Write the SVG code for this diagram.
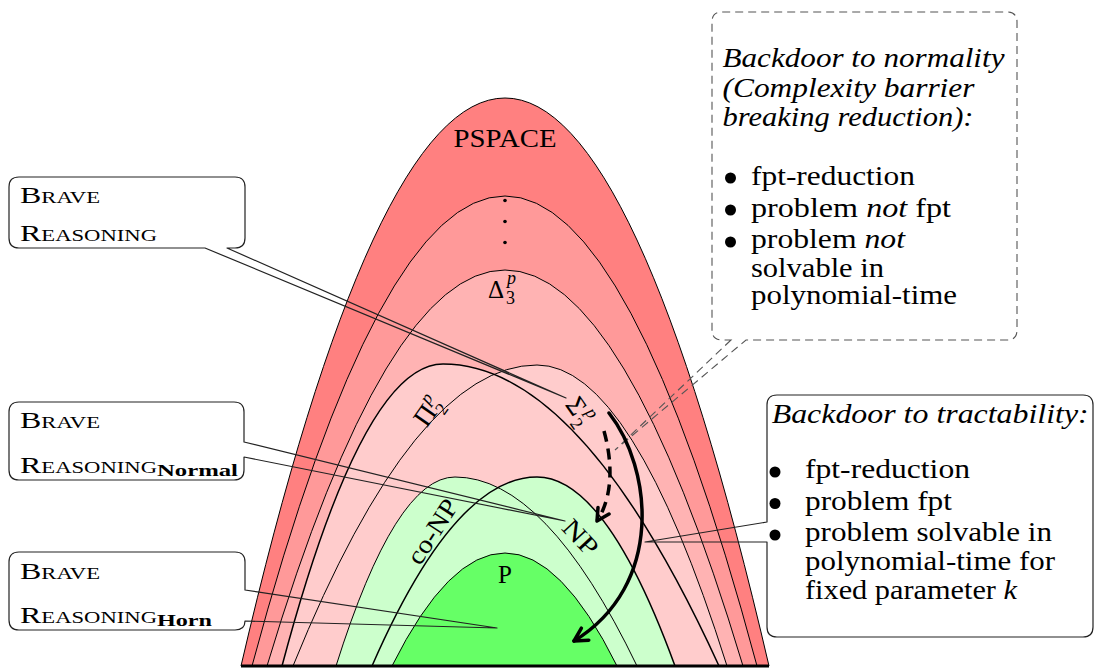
<svg xmlns="http://www.w3.org/2000/svg" width="1094" height="669" viewBox="0 0 1094 669">
<style>
.ln{fill:none;stroke:#000;stroke-width:1}
.lnb{fill:none;stroke:#000;stroke-width:1.5}
.lbl{font-family:"Liberation Serif",serif;font-size:25px;fill:#000}
.sm{font-family:"Liberation Serif",serif;font-size:18px;fill:#000}
.txt{font-family:"Liberation Serif",serif;font-size:27px;fill:#000}
.it{font-style:italic}
.sc{font-family:"Liberation Serif",serif;font-size:24px;font-variant:small-caps;fill:#000}
.sub{font-family:"Liberation Serif",serif;font-size:17px;font-weight:bold;fill:#000}
.box{fill:none;stroke:#222;stroke-width:1.2;stroke-linejoin:round}
.dbox{fill:none;stroke:#555;stroke-width:1.1;stroke-dasharray:8 5}
.arr{fill:none;stroke:#000;stroke-width:3.5;stroke-linecap:round;stroke-linejoin:round}
.bul{fill:#000}
</style>
<g id="pspace">
<path d="M241,666 Q373,98 505,98 Q637,98 769,666 Z" class="ln" style="fill:#ff8080"/>
<text class="lbl" x="505" y="146.5" text-anchor="middle" textLength="103" lengthAdjust="spacingAndGlyphs">PSPACE</text>
</g>
<g id="dots-level">
<path d="M252,666 Q378.5,196 505,196 Q631,196 757,666 Z" class="ln" style="fill:#ff9999"/>
<circle cx="505" cy="200.5" r="1.8"/>
<circle cx="505" cy="221.5" r="1.8"/>
<circle cx="505" cy="242.5" r="1.8"/>
</g>
<g id="delta3">
<path d="M267,666 Q386,270 505,270 Q624,270 743,666 Z" class="ln" style="fill:#ffb3b3"/>
<text class="lbl" x="488" y="297.5" style="font-size:25px">Δ</text>
<text class="sm it" x="507" y="283.5">p</text>
<text class="sm" x="506" y="304">3</text>
</g>
<g id="pi2">
<path d="M282,666 Q362.5,364 443,364 Q581,364 719,666 Z" fill="#ffcccc"/>
</g>
<g id="sigma2">
<path d="M293,666 Q415,365 537,365 Q632,365 727,666 Z" fill="#ffcccc"/>
</g>
<g id="pi2-border"><path d="M282,666 Q362.5,364 443,364 Q581,364 719,666" class="lnb"/></g>
<g id="sigma2-border"><path d="M293,666 Q415,365 537,365 Q632,365 727,666" class="ln"/></g>
<g id="conp">
<path d="M336,666 Q395.5,477 455,477 Q546,477 637,666 Z" fill="#ccffcc"/>
</g>
<g id="np">
<path d="M372,666 Q454.5,477 537,477 Q606,477 675,666 Z" fill="#ccffcc"/>
</g>
<g id="conp-border"><path d="M336,666 Q395.5,477 455,477 Q546,477 637,666" class="ln"/></g>
<g id="np-border"><path d="M372,666 Q454.5,477 537,477 Q606,477 675,666" class="lnb"/></g>
<g id="p">
<path d="M392,666 Q448.5,553 505,553 Q561,553 617,666 Z" class="ln" style="fill:#66ff66"/>
<text class="lbl" x="505" y="582.5" text-anchor="middle">P</text>
</g>
<g id="labels">
<g transform="translate(428,411) rotate(-55)">
<text class="lbl" x="-15" y="9" style="font-size:27px">Π</text>
<text class="sm it" x="5" y="-3">p</text>
<text class="sm" x="5" y="16">2</text>
</g>
<g transform="translate(580,411) rotate(55)">
<text class="lbl" x="-14" y="9" style="font-size:27px">Σ</text>
<text class="sm it" x="4" y="-3">p</text>
<text class="sm" x="4" y="16">2</text>
</g>
<text class="lbl" transform="translate(433,532) rotate(-57)" x="0" y="8" text-anchor="middle" textLength="72" lengthAdjust="spacingAndGlyphs" style="font-size:26px">co-NP</text>
<text class="lbl" transform="translate(580,538) rotate(47)" x="0" y="8" text-anchor="middle" textLength="40" lengthAdjust="spacingAndGlyphs" style="font-size:26px">NP</text>
</g>
<line x1="241" y1="666" x2="769" y2="666" stroke="#000" stroke-width="3"/>
<g id="callout-brave">
<path class="box" d="M205,248 L566,398 L227,248 L235,248 Q245,248 245,238 L245,187 Q245,177 235,177 L19,177 Q9,177 9,187 L9,238 Q9,248 19,248 Z"/>
<text class="sc" x="20" y="203" textLength="80" lengthAdjust="spacingAndGlyphs">Brave</text>
<text class="sc" x="20" y="241" textLength="137" lengthAdjust="spacingAndGlyphs">Reasoning</text>
</g>
<g id="callout-brave-normal">
<path class="box" d="M244,442 L565,521 L244,457 L244,470 Q244,480 234,480 L19,480 Q9,480 9,470 L9,412 Q9,402 19,402 L234,402 Q244,402 244,412 Z"/>
<text class="sc" x="20" y="428" textLength="80" lengthAdjust="spacingAndGlyphs">Brave</text>
<text class="sc" x="20" y="472.5" textLength="137" lengthAdjust="spacingAndGlyphs">Reasoning</text>
<text class="sub" x="157" y="475.5" textLength="81" lengthAdjust="spacingAndGlyphs">Normal</text>
</g>
<g id="callout-brave-horn">
<path class="box" d="M245,590 L497,628 L245,621 Q245,630 235,630 L19,630 Q9,630 9,620 L9,562 Q9,552 19,552 L235,552 Q245,552 245,562 Z"/>
<text class="sc" x="20" y="578.5" textLength="80" lengthAdjust="spacingAndGlyphs">Brave</text>
<text class="sc" x="20" y="622.5" textLength="137" lengthAdjust="spacingAndGlyphs">Reasoning</text>
<text class="sub" x="157" y="625.5" textLength="55" lengthAdjust="spacingAndGlyphs">Horn</text>
</g>
<g id="callout-normality">
<path class="dbox" d="M731,340 L615,450 L746,340 L1007,340 Q1017,340 1017,330 L1017,22 Q1017,12 1007,12 L722,12 Q712,12 712,22 L712,330 Q712,340 722,340 Z"/>
<text class="txt it" x="722.5" y="67" textLength="282" lengthAdjust="spacingAndGlyphs">Backdoor to normality</text>
<text class="txt it" x="722.5" y="96.5" textLength="252" lengthAdjust="spacingAndGlyphs">(Complexity barrier</text>
<text class="txt it" x="722.5" y="126" textLength="251" lengthAdjust="spacingAndGlyphs">breaking reduction):</text>
<circle class="bul" cx="730.5" cy="178" r="5.5"/>
<text class="txt" x="751" y="184.5" textLength="164" lengthAdjust="spacingAndGlyphs">fpt-reduction</text>
<circle class="bul" cx="730.5" cy="210" r="5.5"/>
<text class="txt" x="751" y="216.7" textLength="200" lengthAdjust="spacingAndGlyphs">problem <tspan class="it">not</tspan> fpt</text>
<circle class="bul" cx="730.5" cy="242" r="5.5"/>
<text class="txt" x="751" y="248.3" textLength="154" lengthAdjust="spacingAndGlyphs">problem <tspan class="it">not</tspan></text>
<text class="txt" x="751" y="276.5" textLength="133" lengthAdjust="spacingAndGlyphs">solvable in</text>
<text class="txt" x="751" y="304" textLength="206" lengthAdjust="spacingAndGlyphs">polynomial-time</text>
</g>
<g id="callout-tractability">
<path class="box" d="M767,522 L645,542 L767,542 L767,627 Q767,637 777,637 L1083,637 Q1093,637 1093,627 L1093,405 Q1093,395 1083,395 L777,395 Q767,395 767,405 Z"/>
<text class="txt it" x="771.7" y="423" textLength="317" lengthAdjust="spacingAndGlyphs">Backdoor to tractability:</text>
<circle class="bul" cx="775" cy="472" r="5.5"/>
<text class="txt" x="805" y="478.3" textLength="165" lengthAdjust="spacingAndGlyphs">fpt-reduction</text>
<circle class="bul" cx="775" cy="503.5" r="5.5"/>
<text class="txt" x="805" y="509.5" textLength="147" lengthAdjust="spacingAndGlyphs">problem fpt</text>
<circle class="bul" cx="775" cy="535" r="5.5"/>
<text class="txt" x="805" y="541" textLength="247" lengthAdjust="spacingAndGlyphs">problem solvable in</text>
<text class="txt" x="805" y="570" textLength="250" lengthAdjust="spacingAndGlyphs">polynomial-time for</text>
<text class="txt" x="805" y="599" textLength="212" lengthAdjust="spacingAndGlyphs">fixed parameter <tspan class="it">k</tspan></text>
</g>
<g id="connectors">
<path class="arr" d="M609,413 C652,468 665,585 574,641"/>
<path class="arr" d="M588.8,640.2 L574,641 L581.4,628.2"/>
<path class="arr" d="M604,431 C612,460 614,495 597,521" stroke-dasharray="11 7" style="stroke-linecap:butt"/>
<path class="arr" d="M609,514 L597,521 L598,507.5"/>
</g>
</svg>
